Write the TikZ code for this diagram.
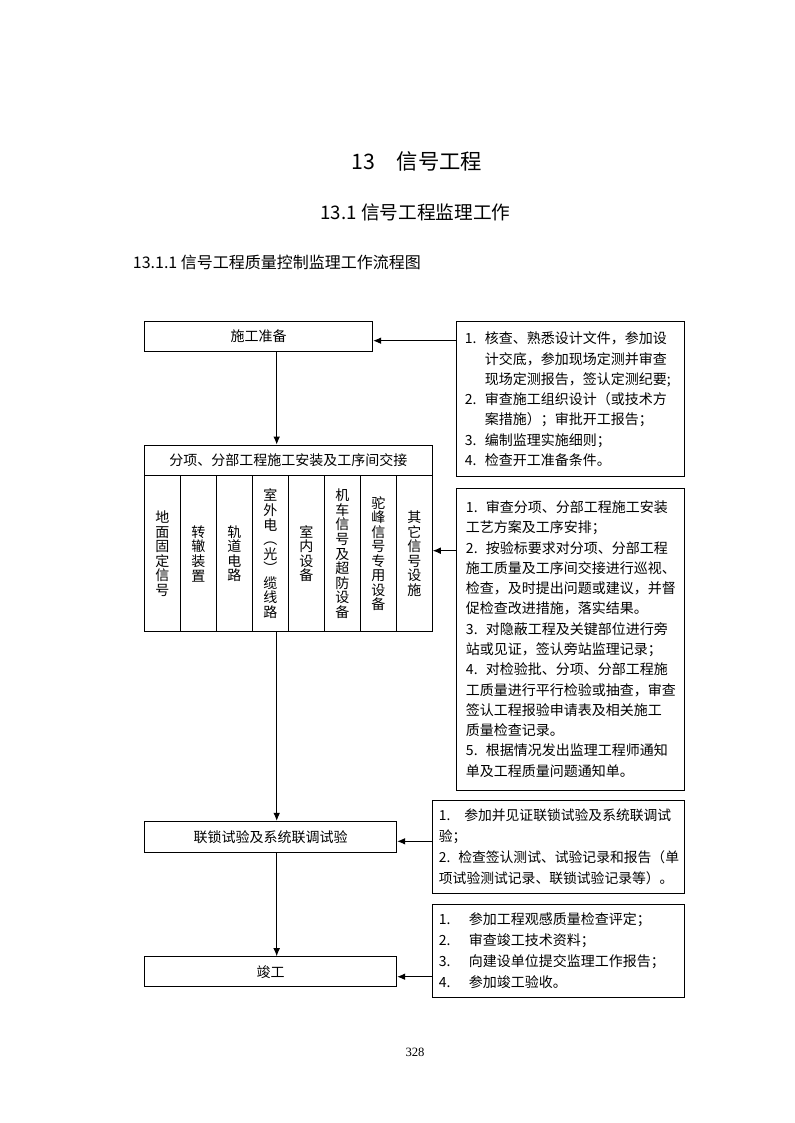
\documentclass[tikz,border=0pt]{standalone}
\usepackage{fontspec}
\setmainfont{Noto Sans CJK SC}
\newfontfamily\pagefont{Liberation Serif}
\usetikzlibrary{calc}
\usetikzlibrary{positioning}
\usetikzlibrary{arrows.meta}
\newcommand{\itm}[2][15pt]{\makebox[#1][l]{#2}}

\begin{document}
\begin{tikzpicture}[x=0.75pt, y=-0.75pt, node distance=0pt, >={Latex[length=6pt,width=5pt]}, line width=0.7pt,
box/.style={draw, inner sep=0pt, font=\fontsize{10.5}{13}\selectfont},
col/.style={draw, inner sep=0pt, minimum width=27pt, minimum height=117pt, align=center, font=\fontsize{10.5}{10.9}\selectfont},
note/.style={inner sep=0pt, align=left, font=\fontsize{10.5}{15.2}\selectfont}]

\useasboundingbox (0,0) rectangle (794,1123);

\node[font=\fontsize{16}{19}\selectfont] (h1) at (417,161) {13\quad 信号工程};
\node[font=\fontsize{14}{17}\selectfont] (h2) at (415.5,212) {13.1 信号工程监理工作};
\node[font=\fontsize{12}{14}\selectfont, anchor=west] (h3) at (128,262) {13.1.1 信号工程质量控制监理工作流程图};

\coordinate (spine) at (276.7,0);
\coordinate (y1) at (0,340.7);
\coordinate (y2) at (0,550.7);
\coordinate (y3) at (0,841.3);
\coordinate (y4) at (0,976.7);

\node[box, minimum width=171.3pt, minimum height=22.2pt] (prep) at (258.5,336.5) {施工准备};
\node[box, minimum width=216pt, minimum height=23pt] (sub) at (288.3,460.35) {分项、分部工程施工安装及工序间交接};
\foreach \lbl [count=\i] in {地\\面\\固\\定\\信\\号, 转\\辙\\装\\置, 轨\\道\\电\\路,
  室\\外\\电\\︵\\光\\︶\\缆\\线\\路, 室\\内\\设\\备, 机\\车\\信\\号\\及\\超\\防\\设\\备,
  驼\\峰\\信\\号\\专\\用\\设\\备, 其\\它\\信\\号\\设\\施}
  \node[col] (c\i) at ({126.3+36*\i},553.7) {\lbl};
\node[box, minimum width=189.3pt, minimum height=23.25pt] (test) at (270.5,836.8) {联锁试验及系统联调试验};
\node[box, minimum width=189.3pt, minimum height=22.5pt] (done) at (270.5,971.7) {竣工};

\node[box, minimum width=171.2pt, minimum height=116.25pt] (r1) at (570.4,399.2) {};
\node[note, right=6.5pt of r1.west] (r1t) {\itm{1.}核查、熟悉设计文件，参加设\\
\hspace*{15pt}计交底，参加现场定测并审查\\
\hspace*{15pt}现场定测报告，签认定测纪要;\\
\itm{2.}审查施工组织设计（或技术方\\
\hspace*{15pt}案措施）；审批开工报告；\\
\itm{3.}编制监理实施细则；\\
\itm{4.}检查开工准备条件。};

\node[box, minimum width=171.4pt, minimum height=226.5pt] (r2) at (570.25,639) {};
\node[note, right=7.5pt of r2.west] (r2t) {\itm{1.}审查分项、分部工程施工安装\\
工艺方案及工序安排；\\
\itm{2.}按验标要求对分项、分部工程\\
施工质量及工序间交接进行巡视、\\
检查，及时提出问题或建议，并督\\
促检查改进措施，落实结果。\\
\itm{3.}对隐蔽工程及关键部位进行旁\\
站或见证，签认旁站监理记录；\\
\itm{4.}对检验批、分项、分部工程施\\
工质量进行平行检验或抽查，审查\\
签认工程报验申请表及相关施工\\
质量检查记录。\\
\itm{5.}根据情况发出监理工程师通知\\
单及工程质量问题通知单。};

\node[box, minimum width=189.2pt, minimum height=69.5pt] (r3) at (558.4,847) {};
\node[note, font=\fontsize{10.35}{15.6}\selectfont, right=5pt of r3.west] (r3t) {\itm[19pt]{1.}参加并见证联锁试验及系统联调试\\
验；\\
\itm[14.5pt]{2.}检查签认测试、试验记录和报告（单\\
项试验测试记录、联锁试验记录等）。};

\node[box, minimum width=189.2pt, minimum height=69.75pt] (r4) at (558.4,950.8) {};
\node[note, font=\fontsize{10.5}{15.7}\selectfont, right=5pt of r4.west] (r4t) {\itm[22.5pt]{1.}参加工程观感质量检查评定；\\
\itm[22.5pt]{2.}审查竣工技术资料；\\
\itm[22.5pt]{3.}向建设单位提交监理工作报告；\\
\itm[22.5pt]{4.}参加竣工验收。};

\draw[->] (prep.south -| spine) -- (sub.north -| spine);
\draw[->] (c4.south -| spine) -- (test.north -| spine);
\draw[->] (test.south -| spine) -- (done.north -| spine);
\draw[->] (r1.west |- y1) -- (prep.east |- y1);
\draw[->] (r2.west |- y2) -- (c8.east |- y2);
\draw[->] (r3.west |- y3) -- (test.east |- y3);
\draw[->] (r4.west |- y4) -- (done.east |- y4);

\node[font=\pagefont\fontsize{9.5}{11}\selectfont] (pg) at (415,1052) {328};
\end{tikzpicture}
\end{document}
